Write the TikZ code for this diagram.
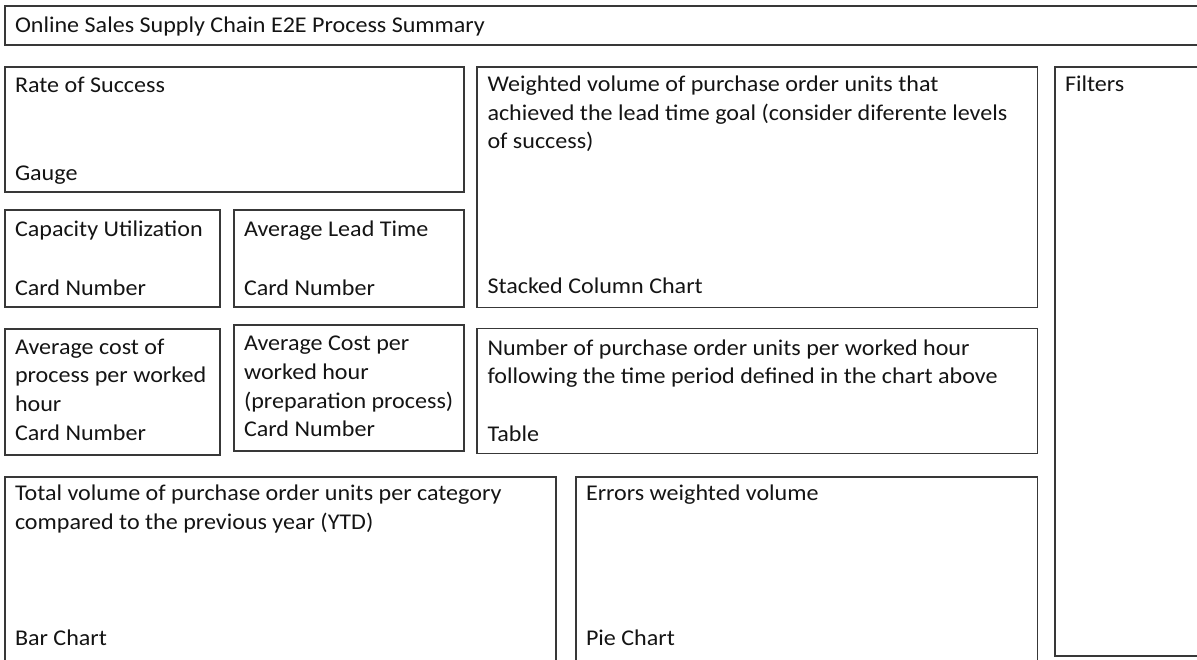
\documentclass[tikz,border=0pt]{standalone}
\usepackage{fontspec}
\setmainfont[FakeStretch=1.07]{Carlito}
\begin{document}
\begin{tikzpicture}[x=1pt,y=1pt,
  panel/.style={draw=black!78, line width=1.2pt, inner sep=0pt, outer sep=0pt, anchor=north west},
  lbl/.style={inner sep=0pt, outer sep=0pt, anchor=base west, text=black!92, font=\fontsize{22.5}{27}\selectfont}]
\useasboundingbox (0,0) rectangle (1197,-659);
% panels
\node[panel, minimum width=1215pt, minimum height=39pt] (title) at (5,-6) {};
\node[panel, minimum width=459pt, minimum height=125pt] (rate) at (5,-67) {};
\node[panel, minimum width=215pt, minimum height=97pt] (cap) at (5,-210) {};
\node[panel, minimum width=230pt, minimum height=97pt] (alt) at (234,-210) {};
\node[panel, minimum width=215pt, minimum height=126pt] (acost) at (5,-329) {};
\node[panel, minimum width=230pt, minimum height=126pt] (acph) at (234,-325) {};
\node[panel, minimum width=560.5pt, minimum height=240.5pt] (weighted) at (477,-67) {};
\node[panel, minimum width=560.5pt, minimum height=125pt] (number) at (477,-328.5) {};
\node[panel, minimum width=551pt, minimum height=210pt] (total) at (5,-477) {};
\node[panel, minimum width=461.5pt, minimum height=210pt] (errors) at (576,-477) {};
\node[panel, minimum width=160pt, minimum height=589pt] (filters) at (1055,-67) {};
% texts
\node[lbl] (title-t) at (15,-32.5) {Online Sales Supply Chain E2E Process Summary};
\node[lbl] (rate-t1) at (15,-92) {Rate of Success};
\node[lbl] (rate-t2) at (15,-180) {Gauge};
\node[lbl] (cap-t1) at (15,-236.7) {Capacity Utilization};
\node[lbl] (cap-t2) at (15,-295) {Card Number};
\node[lbl] (alt-t1) at (244,-236.7) {Average Lead Time};
\node[lbl] (alt-t2) at (244,-295) {Card Number};
\node[lbl] (acost-t1) at (15,-354) {Average cost of};
\node[lbl] (acost-t2) at (15,-382.7) {process per worked};
\node[lbl] (acost-t3) at (15,-411.5) {hour};
\node[lbl] (acost-t4) at (15,-440) {Card Number};
\node[lbl] (acph-t1) at (244,-350) {Average Cost per};
\node[lbl] (acph-t2) at (244,-379) {worked hour};
\node[lbl] (acph-t3) at (244,-408) {(preparation process)};
\node[lbl] (acph-t4) at (244,-436.7) {Card Number};
\node[lbl] (weighted-t1) at (487.5,-91.7) {Weighted volume of purchase order units that};
\node[lbl] (weighted-t2) at (487.5,-120) {achieved the lead time goal (consider diferente levels};
\node[lbl] (weighted-t3) at (487.5,-148.3) {of success)};
\node[lbl] (weighted-t4) at (487.5,-293.3) {Stacked Column Chart};
\node[lbl] (number-t1) at (487.5,-355) {Number of purchase order units per worked hour};
\node[lbl] (number-t2) at (487.5,-383.3) {following the time period defined in the chart above};
\node[lbl] (number-t3) at (487.5,-441.7) {Table};
\node[lbl] (total-t1) at (15,-500.7) {Total volume of purchase order units per category};
\node[lbl] (total-t2) at (15,-529.5) {compared to the previous year (YTD)};
\node[lbl] (total-t3) at (15,-645) {Bar Chart};
\node[lbl] (errors-t1) at (586,-500.7) {Errors weighted volume};
\node[lbl] (errors-t2) at (586,-645) {Pie Chart};
\node[lbl] (filters-t) at (1065,-91.7) {Filters};
\end{tikzpicture}
\end{document}
